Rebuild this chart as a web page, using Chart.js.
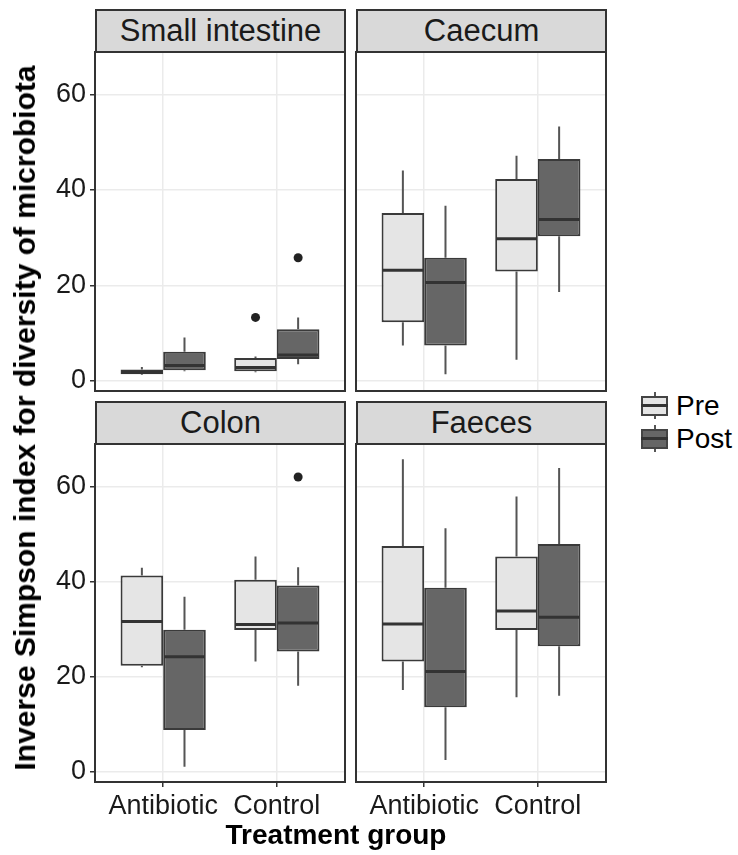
<!DOCTYPE html>
<html>
<head>
<meta charset="utf-8">
<script src="https://cdn.jsdelivr.net/npm/chart.js@4.4.0/dist/chart.umd.min.js"></script>
<style>
  body { margin: 0; background: #fff; font-family: "Liberation Sans", Arial, sans-serif; }
  #page { position: relative; width: 738px; height: 855px; overflow: hidden; }
  .panel { position: absolute; }
  .strip {
    position: absolute; box-sizing: border-box; background: #d9d9d9;
    border: 2px solid #333; text-align: center; font-size: 31px; color: #1a1a1a;
  }
  .ytitle {
    position: absolute; left: 25px; top: 418px; white-space: nowrap;
    transform: translate(-50%, -50%) rotate(-90deg);
    font-weight: bold; font-size: 30px; color: #000;
  }
  .xtitle {
    position: absolute; left: 336px; top: 835px; white-space: nowrap;
    transform: translate(-50%, -50%);
    font-weight: bold; font-size: 28px; color: #000;
  }
  .key { position: absolute; left: 641px; width: 27px; }
  .key .whisk { position: absolute; left: 12.5px; width: 2px; background: #555; }
  .key .box { position: absolute; left: 0; width: 27px; box-sizing: border-box; border: 2px solid #444; }
  .key .med { position: absolute; left: 0; width: 27px; height: 3px; background: #333; }
  .lab { position: absolute; left: 676px; font-size: 28px; color: #000; transform: translateY(-50%); }
</style>
</head>
<body>
<div id="page"></div>
<script>
// categories and tick labels
const categories = ['Antibiotic', 'Control'];
const panelTitles = ['Small intestine', 'Caecum', 'Colon', 'Faeces'];
const seriesNames = ['Pre', 'Post'];
const yTicks = [0, 20, 40, 60];

// box stats per category: [lower whisker, Q1, median, Q3, upper whisker]
const smallPre   = [[1.2, 1.4, 1.8, 2.4, 2.9], [1.8, 2.0, 2.8, 4.8, 5.1]];
const smallPost  = [[2.0, 2.2, 3.2, 6.1, 9.1], [3.5, 4.6, 5.4, 10.8, 13.3]];
const caecumPre  = [[7.4, 12.3, 23.2, 35.2, 44.1], [4.4, 22.9, 29.8, 42.3, 47.2]];
const caecumPost = [[1.4, 7.4, 20.6, 25.8, 36.7], [18.6, 30.3, 33.8, 46.5, 53.3]];
const colonPre   = [[22.0, 22.3, 31.6, 41.3, 42.9], [23.2, 29.8, 31.0, 40.4, 45.3]];
const colonPost  = [[1.1, 8.8, 24.2, 29.9, 36.8], [18.1, 25.3, 31.3, 39.2, 43.0]];
const faecesPre  = [[17.2, 23.2, 31.1, 47.5, 65.7], [15.7, 29.8, 33.8, 45.3, 57.9]];
const faecesPost = [[2.5, 13.6, 21.1, 38.7, 51.2], [16.0, 26.4, 32.5, 47.9, 63.9]];

// outlying points per category
const smallPreOut  = [[], [13.3]];
const smallPostOut = [[], [25.8]];
const colonPostOut = [[], [62.0]];
const noOut = [[], []];

const preFill = '#e5e5e5';
const postFill = '#666666';
const font = '"Liberation Sans", Arial, sans-serif';

// draws whiskers, medians and outliers on top of the floating bars
const boxExtras = {
  id: 'boxExtras',
  afterDatasetsDraw(chart) {
    const ctx = chart.ctx;
    const y = chart.scales.y;
    chart.data.datasets.forEach((ds, d) => {
      const meta = chart.getDatasetMeta(d);
      meta.data.forEach((bar, i) => {
        const s = ds.stats[i];
        const p = bar.getProps(['x', 'width'], true);
        const half = p.width / 2;
        ctx.save();
        ctx.strokeStyle = '#555';
        ctx.lineWidth = 2;
        ctx.beginPath();
        ctx.moveTo(p.x, y.getPixelForValue(s[0]));
        ctx.lineTo(p.x, y.getPixelForValue(s[1]));
        ctx.moveTo(p.x, y.getPixelForValue(s[3]));
        ctx.lineTo(p.x, y.getPixelForValue(s[4]));
        ctx.stroke();
        ctx.strokeStyle = '#333';
        ctx.lineWidth = 3;
        const ym = y.getPixelForValue(s[2]);
        ctx.beginPath();
        ctx.moveTo(p.x - half + 1, ym);
        ctx.lineTo(p.x + half - 1, ym);
        ctx.stroke();
        ctx.fillStyle = '#222';
        ds.outliers[i].forEach(v => {
          ctx.beginPath();
          ctx.arc(p.x, y.getPixelForValue(v), 4.5, 0, Math.PI * 2);
          ctx.fill();
        });
        ctx.restore();
      });
    });
  }
};

// panel border
const frame = {
  id: 'frame',
  afterDraw(chart) {
    const a = chart.chartArea;
    const ctx = chart.ctx;
    ctx.save();
    ctx.strokeStyle = '#333';
    ctx.lineWidth = 2;
    ctx.strokeRect(a.left, a.top, a.right - a.left, a.bottom - a.top);
    ctx.restore();
  }
};

const page = document.getElementById('page');

function makePanel(cfg) {
  const cv = document.createElement('canvas');
  cv.className = 'panel';
  cv.style.left = cfg.left + 'px';
  cv.style.top = cfg.top + 'px';
  cv.style.width = cfg.w + 'px';
  cv.style.height = cfg.h + 'px';
  cv.width = cfg.w;
  cv.height = cfg.h;
  page.appendChild(cv);

  const strip = document.createElement('div');
  strip.className = 'strip';
  strip.style.left = cfg.stripLeft + 'px';
  strip.style.top = cfg.stripTop + 'px';
  strip.style.width = '251px';
  strip.style.height = cfg.stripH + 'px';
  strip.style.lineHeight = (cfg.stripH - 4) + 'px';
  strip.textContent = cfg.title;
  page.appendChild(strip);

  const sets = [cfg.pre, cfg.post];
  const outs = [cfg.preOut, cfg.postOut];
  const datasets = seriesNames.map((name, k) => ({
    label: name,
    data: categories.map((c, i) => ({ x: i + 1, y: [sets[k][i][1], sets[k][i][3]] })),
    stats: sets[k],
    outliers: outs[k],
    backgroundColor: k === 0 ? preFill : postFill,
    borderColor: '#3a3a3a',
    borderWidth: 2,
    borderSkipped: false,
    categoryPercentage: 0.75,
    barPercentage: 1
  }));

  const noPad = s => { s.paddingTop = 0; s.paddingBottom = 0; s.paddingLeft = 0; s.paddingRight = 0; };

  new Chart(cv, {
    type: 'bar',
    data: { datasets: datasets },
    options: {
      responsive: false,
      animation: false,
      layout: { padding: { top: 2, right: 2, left: cfg.padLeft, bottom: cfg.xh ? 0 : 2 } },
      plugins: { legend: { display: false }, tooltip: { enabled: false } },
      scales: {
        x: {
          type: 'linear',
          min: 0.4,
          max: 2.6,
          offset: false,
          afterBuildTicks: s => { s.ticks = categories.map((c, i) => ({ value: i + 1 })); },
          afterFit: s => { s.height = cfg.xh; noPad(s); },
          border: { display: false },
          grid: { offset: false, color: '#ebebeb', lineWidth: 1.5, drawTicks: cfg.xh > 0, tickLength: 5, tickColor: '#333', tickWidth: 1.5 },
          ticks: {
            display: cfg.xh > 0,
            autoSkip: false,
            maxRotation: 0,
            minRotation: 0,
            padding: 3,
            color: '#1a1a1a',
            font: { family: font, size: 27 },
            callback: (v, i) => categories[i]
          }
        },
        y: {
          min: -2.13,
          max: 68.93,
          afterBuildTicks: s => { s.ticks = yTicks.map(v => ({ value: v })); },
          afterFit: s => { s.width = cfg.yw; noPad(s); },
          border: { display: false },
          grid: { color: '#ebebeb', lineWidth: 1.5, drawTicks: cfg.yw > 0, tickLength: 5, tickColor: '#333', tickWidth: 1.5 },
          ticks: {
            display: cfg.yw > 0,
            padding: 4,
            color: '#1a1a1a',
            font: { family: font, size: 27 },
            callback: v => String(v)
          }
        }
      }
    },
    plugins: [boxExtras, frame]
  });
}

makePanel({ title: panelTitles[0], pre: smallPre, post: smallPost, preOut: smallPreOut, postOut: smallPostOut,
  left: 0, top: 50, w: 347, h: 343, yw: 95, xh: 0, padLeft: 0, stripLeft: 95, stripTop: 9, stripH: 44 });
makePanel({ title: panelTitles[1], pre: caecumPre, post: caecumPost, preOut: noOut, postOut: noOut,
  left: 354, top: 50, w: 254, h: 343, yw: 0, xh: 0, padLeft: 2, stripLeft: 356, stripTop: 9, stripH: 44 });
makePanel({ title: panelTitles[2], pre: colonPre, post: colonPost, preOut: noOut, postOut: colonPostOut,
  left: 0, top: 442, w: 347, h: 340 + 45, yw: 95, xh: 45, padLeft: 0, stripLeft: 95, stripTop: 401, stripH: 44 });
makePanel({ title: panelTitles[3], pre: faecesPre, post: faecesPost, preOut: noOut, postOut: noOut,
  left: 354, top: 442, w: 254, h: 340 + 45, yw: 0, xh: 45, padLeft: 2, stripLeft: 356, stripTop: 401, stripH: 44 });

// axis titles
const yt = document.createElement('div');
yt.className = 'ytitle';
yt.textContent = 'Inverse Simpson index for diversity of microbiota';
page.appendChild(yt);
const xt = document.createElement('div');
xt.className = 'xtitle';
xt.textContent = 'Treatment group';
page.appendChild(xt);

// legend
const keyTops = [392, 425];
seriesNames.forEach((name, k) => {
  const key = document.createElement('div');
  key.className = 'key';
  key.style.top = keyTops[k] + 'px';
  key.style.height = '27px';
  key.innerHTML = '<div class="whisk" style="top:0;height:27px"></div>' +
    '<div class="box" style="top:3.5px;height:20px;background:' + (k === 0 ? preFill : postFill) + '"></div>' +
    '<div class="med" style="top:12px"></div>';
  page.appendChild(key);
  const lab = document.createElement('div');
  lab.className = 'lab';
  lab.style.top = (keyTops[k] + 13.5) + 'px';
  lab.textContent = name;
  page.appendChild(lab);
});
</script>
</body>
</html>
